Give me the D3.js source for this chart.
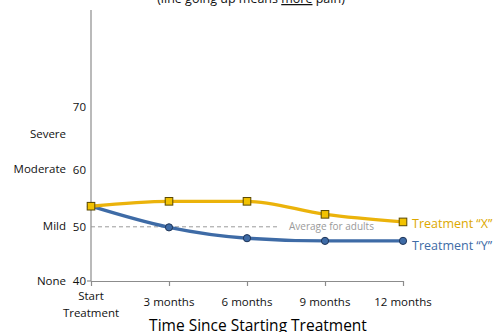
<!DOCTYPE html>
<html>
<head>
<meta charset="utf-8">
<script src="https://cdn.jsdelivr.net/npm/d3@7"></script>
<style>
  html, body { margin: 0; padding: 0; background: #fff; }
  svg { display: block; font-family: "Open Sans", sans-serif; }
</style>
</head>
<body>
<svg id="chart" width="500" height="332"></svg>
<script>
// Pain score over time for two treatments
const timepoints = ["Start Treatment", "3 months", "6 months", "9 months", "12 months"];
const treatmentX = [53.8, 54.7, 54.7, 52.3, 50.9];
const treatmentY = [53.8, 49.9, 47.9, 47.4, 47.4];
const yTicks = [40, 50, 60, 70];
const severityLabels = ["None", "Mild", "Moderate", "Severe"];
const severityValues = [40, 50, 60, 67];
const adultAverage = 50;

const svg = d3.select("#chart");
const plotLeft = 91, plotRight = 403, plotTop = 10, plotBottom = 281;

const x = d3.scalePoint().domain(timepoints).range([plotLeft, plotRight]);
const y = d3.scaleLinear().domain([40, 90]).range([plotBottom, plotTop]);

const axisColor = "#8c8c8c";
const textColor = "#111";

// subtitle (runs off the top edge)
const sub = svg.append("text")
  .attr("x", 251).attr("y", 3)
  .attr("text-anchor", "middle")
  .attr("font-size", 12.5).attr("fill", textColor);
sub.append("tspan").text("(line going up means ");
sub.append("tspan").attr("text-decoration", "underline").text("more");
sub.append("tspan").text(" pain)");

// y axis
const yAxis = svg.append("g").attr("transform", `translate(${plotLeft},0)`)
  .call(d3.axisLeft(y).tickValues(yTicks).tickSize(0).tickPadding(5));
yAxis.select(".domain").remove();
yAxis.append("line")
  .attr("x1", 0).attr("x2", 0).attr("y1", plotTop).attr("y2", plotBottom)
  .attr("stroke", axisColor).attr("stroke-width", 1.2);
yAxis.append("line")
  .attr("x1", -4).attr("x2", 0).attr("y1", plotBottom).attr("y2", plotBottom)
  .attr("stroke", axisColor).attr("stroke-width", 1.2);
yAxis.selectAll(".tick text")
  .attr("font-family", "Open Sans, sans-serif")
  .attr("font-size", 11.5).attr("fill", textColor)
  .attr("dy", d => d === 70 ? "-0.65em" : d === 60 ? "0.05em" : "0.32em");

// severity words beside the numbers
svg.append("g").selectAll("text")
  .data(severityLabels)
  .join("text")
  .attr("x", 66)
  .attr("y", (d, i) => y(severityValues[i]))
  .attr("dy", (d, i) => severityValues[i] === 60 ? "0.05em" : "0.32em")
  .attr("text-anchor", "end")
  .attr("font-size", 11.5).attr("fill", textColor)
  .text(d => d);

// x axis
const xAxis = svg.append("g").attr("transform", `translate(0,${plotBottom})`)
  .call(d3.axisBottom(x).tickSize(5).tickSizeOuter(0).tickFormat(""));
xAxis.select(".domain").attr("stroke", axisColor).attr("stroke-width", 1.2);
xAxis.selectAll(".tick line").attr("stroke", axisColor).attr("stroke-width", 1.2);

const xl = svg.append("g").selectAll("text")
  .data(timepoints)
  .join("text")
  .attr("x", d => x(d))
  .attr("text-anchor", "middle")
  .attr("font-size", 11.5).attr("fill", textColor);
xl.each(function(d) {
  const words = d === "Start Treatment" ? ["Start", "Treatment"] : [d];
  const t = d3.select(this);
  const y0 = words.length > 1 ? 300 : 305.5;
  words.forEach((w, i) => t.append("tspan").attr("x", x(d)).attr("y", y0 + i * 16.5).text(w));
});

svg.append("text")
  .attr("x", 258).attr("y", 330.5)
  .attr("text-anchor", "middle")
  .attr("font-size", 15.5).attr("fill", "#000")
  .text("Time Since Starting Treatment");

// reference line for the adult average
svg.append("line")
  .attr("x1", plotLeft).attr("x2", 278)
  .attr("y1", y(adultAverage)).attr("y2", y(adultAverage))
  .attr("stroke", "#9a9a9a").attr("stroke-width", 1)
  .attr("stroke-dasharray", "4,3");
svg.append("text")
  .attr("x", 289).attr("y", y(adultAverage)).attr("dy", "0.32em")
  .attr("font-size", 10).attr("fill", "#9a9a9a")
  .text("Average for adults");

const line = d3.line()
  .x((d, i) => x(timepoints[i]))
  .y(d => y(d))
  .curve(d3.curveMonotoneX);

const colX = "#EBB30B", colY = "#3E6BA6";

// treatment Y
svg.append("path").datum(treatmentY)
  .attr("d", line).attr("fill", "none")
  .attr("stroke", colY).attr("stroke-width", 3.4);
svg.append("g").selectAll("circle")
  .data(treatmentY).join("circle")
  .attr("cx", (d, i) => x(timepoints[i])).attr("cy", d => y(d))
  .attr("r", 3.6).attr("fill", "#3E6BA6")
  .attr("stroke", "#1f3558").attr("stroke-width", 1);

// treatment X
svg.append("path").datum(treatmentX)
  .attr("d", line).attr("fill", "none")
  .attr("stroke", colX).attr("stroke-width", 3.4);
svg.append("g").selectAll("rect")
  .data(treatmentX).join("rect")
  .attr("x", (d, i) => x(timepoints[i]) - 3.8).attr("y", d => y(d) - 3.8)
  .attr("width", 7.6).attr("height", 7.6)
  .attr("fill", "#F2C200")
  .attr("stroke", "#5a4800").attr("stroke-width", 1);

// series labels at the line ends
svg.append("text")
  .attr("x", 412).attr("y", y(treatmentX[4]) + 2).attr("dy", "0.32em")
  .attr("font-size", 12.5).attr("fill", "#DDA800")
  .text("Treatment “X”");
svg.append("text")
  .attr("x", 412).attr("y", y(treatmentY[4]) + 5).attr("dy", "0.32em")
  .attr("font-size", 12.5).attr("fill", colY)
  .text("Treatment “Y”");
</script>
</body>
</html>
